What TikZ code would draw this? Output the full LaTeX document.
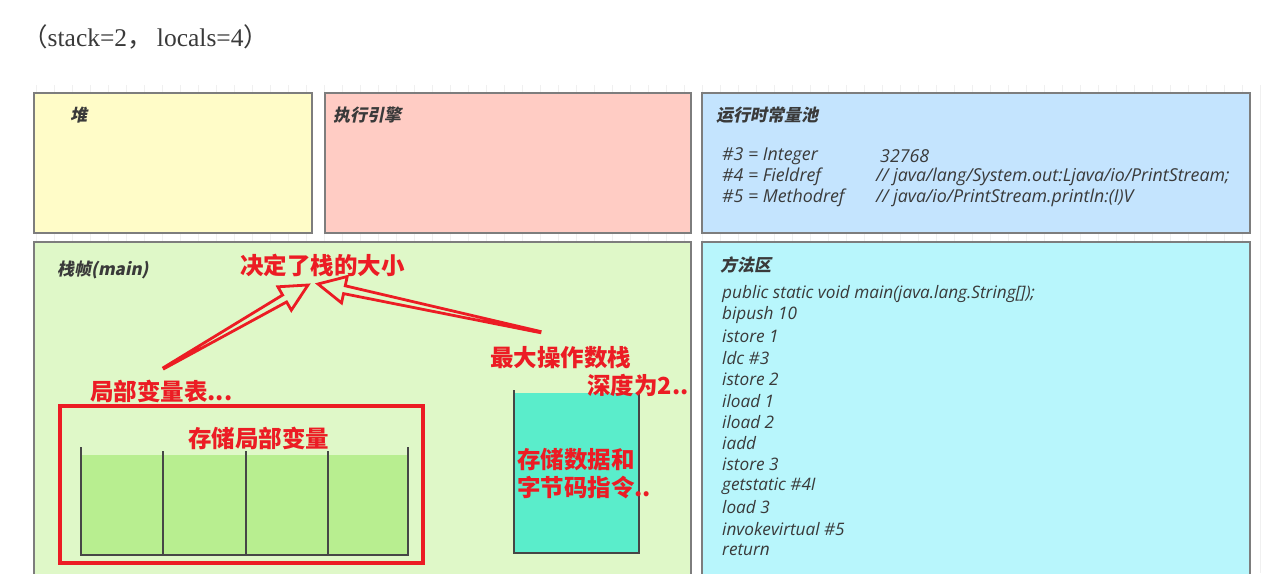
\documentclass[tikz,border=0pt]{standalone}
\usepackage{fontspec}
\setmainfont{Open Sans}
\newfontfamily\cjk{Noto Sans CJK SC}
\newfontfamily\cjksl{Noto Sans CJK SC}[FakeSlant=0.2]
\newfontfamily\serifjk{Liberation Serif}
\usetikzlibrary{calc,positioning}
\definecolor{heapc}{RGB}{255,252,200}
\definecolor{execc}{RGB}{255,204,196}
\definecolor{poolc}{RGB}{196,228,254}
\definecolor{framec}{RGB}{223,248,200}
\definecolor{methodc}{RGB}{184,246,252}
\definecolor{lvfill}{RGB}{184,238,144}
\definecolor{opfill}{RGB}{90,237,203}
\definecolor{notered}{RGB}{236,28,36}
\definecolor{boxgray}{RGB}{125,125,125}
\definecolor{inkgray}{RGB}{58,58,58}
\definecolor{wallgray}{RGB}{70,70,70}

% outlined red arrow: tail coordinate, tip coordinate
\newcommand\hollowarrow[2]{%
  \coordinate (#1-h) at ($(#2)!27pt!(#1)$);
  \draw[hollow] ($(#1)!0.6pt!90:(#2)$) -- ($(#1-h)!4pt!90:(#2)$)
    -- ($(#1-h)!13.5pt!90:(#2)$) -- (#2) -- ($(#1-h)!13.5pt!-90:(#2)$)
    -- ($(#1-h)!4pt!-90:(#2)$) -- ($(#1)!0.6pt!-90:(#2)$) -- cycle;}

\begin{document}
\begin{tikzpicture}[x=1pt, y=-1pt,
    area/.style={draw=boxgray, line width=1.5pt, anchor=north west, inner sep=0pt},
    title/.style={font=\cjksl\bfseries\fontsize{17}{20}\selectfont, text=inkgray, anchor=west, inner sep=0pt},
    code/.style={font=\itshape\fontsize{17.2}{20}\selectfont, text=inkgray, anchor=west, inner sep=0pt},
    pool/.style={code, font=\itshape\fontsize{17.8}{20}\selectfont},
    note/.style={font=\cjk\bfseries\fontsize{23.5}{28}\selectfont, text=notered, anchor=west, inner sep=0pt},
    hollow/.style={draw=notered, line width=2.8pt, line join=miter},
    wall/.style={draw=wallgray, line width=2pt}
]
\useasboundingbox (0,0) rectangle (1271,573);
\fill[white] (0,0) rectangle (1271,573);
\draw[gray!12, line width=0.5pt] (25,85) grid[step=18] (1271,573);

\node[font=\serifjk\fontsize{25.5}{28}\selectfont, text=inkgray, anchor=west, inner sep=0pt] (sig) at (22,37)
  {{\cjk（}stack=2{\cjk，}\,locals=4{\cjk）}};

% top row
\node[area, fill=heapc, minimum width=278pt, minimum height=140pt] (heap) at (33,92) {};
\node[area, fill=execc, minimum width=366pt, minimum height=140pt] (engine) at (324,92) {};
\node[area, fill=poolc, minimum width=548pt, minimum height=140pt] (pool) at (701,92) {};
\node[title] (heapt) at (70,115) {堆};
\node[title] (enginet) at (333,115) {执行引擎};
\node[title] (poolt) at (716,115) {运行时常量池};

\node[pool] (c3) at (722,156) {\#3 = Integer};
\node[pool] (c4) at (722,177) {\#4 = Fieldref};
\node[pool] (c5) at (722,198) {\#5 = Methodref};
\node[pool] (c3v) at (880,156) {32768};
\node[pool] (c4v) at (876,177) {// java/lang/System.out:Ljava/io/PrintStream;};
\node[pool] (c5v) at (876,198) {// java/io/PrintStream.println:(I)V};

% bottom row
\node[area, fill=framec, minimum width=657pt, minimum height=345pt] (frame) at (33,241) {};
\node[area, fill=methodc, minimum width=548pt, minimum height=345pt] (method) at (701,241) {};
\node[title] (framet) at (57,270) {栈帧(main)};
\node[title] (methodt) at (720,265) {方法区};

\foreach \s [count=\i] in {{public static void main(java.lang.String[]);}, bipush 10, istore 1,
    ldc \#3, istore 2, iload 1, iload 2, iadd, istore 3, getstatic \#4I, load 3,
    invokevirtual \#5, return}
  \node[code] (m\i) at (722,272.67+21.33*\i) {\s};

% local variable table
\draw[notered, line width=4pt] (60,406) rectangle (423,563);
\fill[lvfill] (81,455) rectangle (408,555);
\draw[wall] (81,447) -- (81,555) -- (408,555) -- (408,447);
\foreach \x in {163,246,328}
  \draw[wall] (\x,451) -- (\x,555);

% operand stack
\fill[opfill] (514,393) rectangle (639,553);
\draw[wall] (514,390) -- (514,553) -- (639,553) -- (639,391);

% red notes
\node[note] (size) at (240,265) {决定了栈的大小};
\node[note] (ops) at (490,358) {最大操作数栈};
\node[note] (depth) at (587,385) {深度为2..};
\node[note] (lvt) at (90,391) {局部变量表...};
\node[note] (lvtd) at (188,438) {存储局部变量};
\node[note, align=left] (opsd) at (517,474) {存储数据和\\字节码指令..};

\coordinate (lvtArrow) at (164,368);
\coordinate (lvtTip) at (308,285);
\coordinate (opsArrow) at (540,332);
\coordinate (opsTip) at (318,284);
\hollowarrow{lvtArrow}{lvtTip}
\hollowarrow{opsArrow}{opsTip}
\end{tikzpicture}
\end{document}
